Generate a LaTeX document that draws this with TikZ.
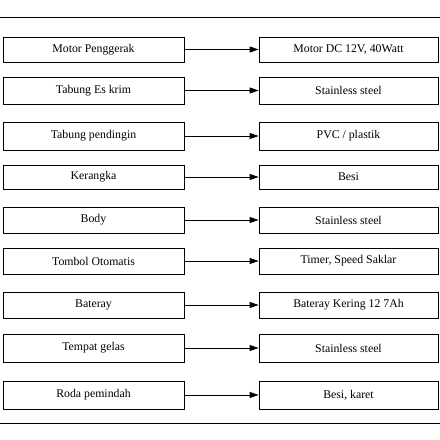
\documentclass[tikz,border=0pt]{standalone}
\usepackage{fontspec}
\setmainfont{Liberation Serif}
\usetikzlibrary{arrows.meta}
\begin{document}
\begin{tikzpicture}[x=1pt,y=1pt,
  box/.style={draw, line width=0.8pt, inner sep=0pt, font=\fontsize{11.8}{14}\selectfont},
  link/.style={line width=0.8pt, -{Triangle[length=9pt,width=6pt]}},
  rule/.style={line width=0.9pt}]
\useasboundingbox (0,0) rectangle (440,440);
\coordinate (tl) at (0,423);
\coordinate (tr) at (440,423);
\coordinate (bl) at (0,17);
\coordinate (br) at (440,17);
\draw[rule] (tl) -- (tr);
\draw[rule] (bl) -- (br);
\foreach \i/\y/\h/\a/\b in {
  1/49.5/25/{Motor Penggerak}/{Motor DC 12V, 40Watt},
  2/90.5/27/{Tabung Es krim}/{Stainless steel},
  3/136/28/{Tabung pendingin}/{PVC / plastik},
  4/177/24/{Kerangka}/{Besi},
  5/220/26/{Body}/{Stainless steel},
  6/261/26/{Tombol Otomatis}/{Timer, Speed Saklar},
  7/305/26/{Bateray}/{Bateray Kering 12 7Ah},
  8/348/28/{Tempat gelas}/{Stainless steel},
  9/395/28/{Roda pemindah}/{Besi, karet}}{
  \node[box, minimum width=181pt, minimum height=\h pt] (l\i) at (93.5,{440-\y}) {\a};
  \node[box, minimum width=179pt, minimum height=\h pt] (r\i) at (348.5,{440-\y}) {\b};
  \draw[link] (l\i) -- (r\i);
}
\end{tikzpicture}
\end{document}
